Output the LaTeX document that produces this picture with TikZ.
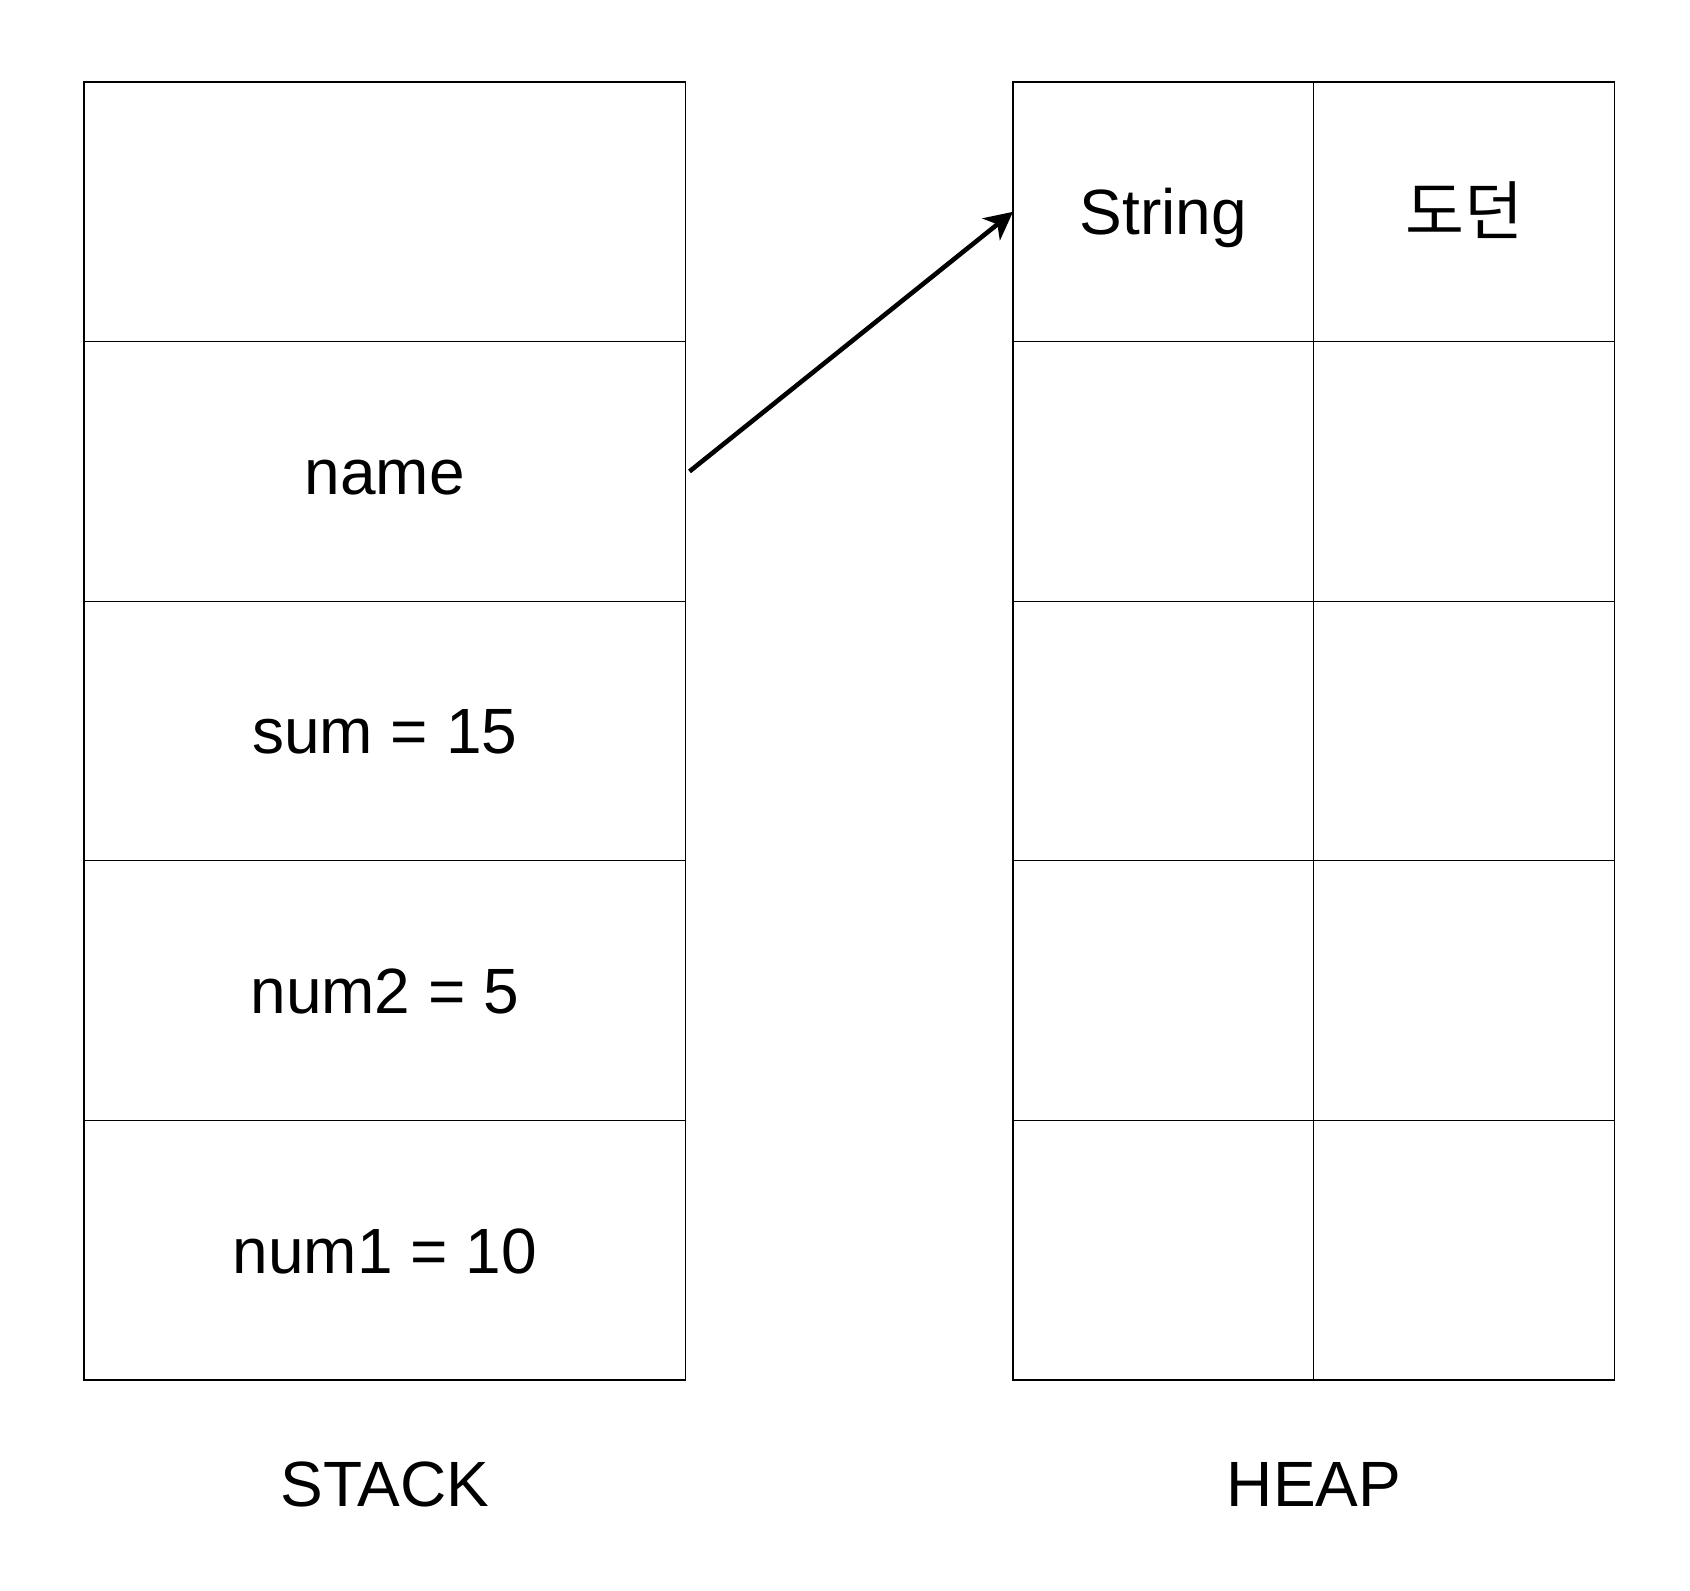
\documentclass[tikz,border=0pt]{standalone}
\usepackage{fontspec}
\setmainfont{Liberation Sans}
\newfontfamily\kor{Noto Sans CJK KR}
\usetikzlibrary{arrows.meta}

\tikzset{
    cell/.style={draw, line width=0.65pt, inner sep=0pt, outer sep=0pt,
                 minimum width=300.75pt, minimum height=129.8pt,
                 text height=28.8pt, text depth=5.9pt, font=\fontsize{32}{38}\selectfont},
    heapcell/.style={cell, minimum width=150.4pt},
    label/.style={font=\fontsize{32}{38}\selectfont}
}

\begin{document}
\begin{tikzpicture}[x=0.5pt, y=-0.5pt]
                            \useasboundingbox (0,0) rectangle (1690,1590);

                            \node[cell] (top)  at (384.75, 211.8) {};
                            \node[cell] (name) at (384.75, 471.4) {name};
                            \node[cell] (sum)  at (384.75, 731.0) {sum = 15};
                            \node[cell] (num2) at (384.75, 990.6) {num2 = 5};
                            \node[cell] (num1) at (384.75, 1250.2) {num1 = 10};

                            \node[heapcell] (str)  at (1163.4, 211.8) {String};
                            \node[heapcell] (val)  at (1464.1, 211.8) {\kor 도던};
                            \node[heapcell] (h21)  at (1163.4, 471.4) {};
                            \node[heapcell] (h22)  at (1464.1, 471.4) {};
                            \node[heapcell] (h31)  at (1163.4, 731.0) {};
                            \node[heapcell] (h32)  at (1464.1, 731.0) {};
                            \node[heapcell] (h41)  at (1163.4, 990.6) {};
                            \node[heapcell] (h42)  at (1464.1, 990.6) {};
                            \node[heapcell] (h51)  at (1163.4, 1250.2) {};
                            \node[heapcell] (h52)  at (1464.1, 1250.2) {};

                            \node[label] (stack) at (384.75, 1484) {STACK};
                            \node[label] (heap)  at (1314, 1484) {HEAP};

                            \draw[line width=2.3pt, -{Stealth[length=14pt, width=14pt, inset=4pt]}]
                                ([xshift=2pt]name.east) -- (str.west);
                        \end{tikzpicture}
\end{document}
